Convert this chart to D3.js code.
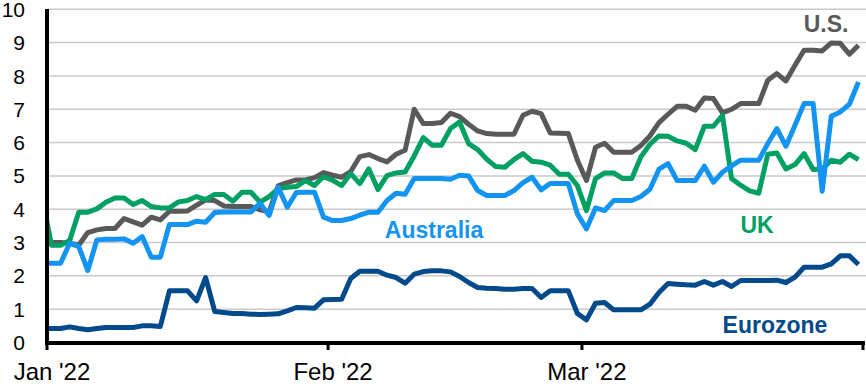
<!DOCTYPE html>
<html>
<head>
<meta charset="utf-8">
<script src="https://cdn.jsdelivr.net/npm/d3@7"></script>
<style>
  body { margin: 0; background: #fff; }
  svg { display: block; font-family: "Liberation Sans", Arial, sans-serif; }
</style>
</head>
<body>
<div id="chart"></div>
<script>
// daily values, first point is 31 Dec 2021, last one 31 Mar 2022
let startDate = new Date(2021, 11, 31, 12);

let usValues = [3.0, 3.0, 3.0, 2.98, 2.92, 3.3, 3.38, 3.42, 3.42, 3.72,
  3.62, 3.52, 3.76, 3.68, 3.94, 3.94, 3.95, 4.12, 4.28, 4.26,
  4.1, 4.08, 4.08, 4.08, 3.98, 3.92, 4.7, 4.8, 4.88, 4.88,
  4.95, 5.1, 5.02, 4.96, 5.13, 5.58, 5.64, 5.52, 5.42, 5.65,
  5.77, 7.0, 6.57, 6.57, 6.6, 6.88, 6.78, 6.55, 6.35, 6.27,
  6.25, 6.25, 6.25, 6.82, 6.94, 6.87, 6.29, 6.28, 6.27, 5.47,
  4.86, 5.86, 5.98, 5.71, 5.71, 5.71, 5.91, 6.2, 6.6, 6.85,
  7.09, 7.09, 6.97, 7.34, 7.32, 6.89, 7.0, 7.17, 7.17, 7.17,
  7.87, 8.07, 7.85, 8.32, 8.77, 8.77, 8.75, 8.99, 8.98, 8.65, 8.92];

let ukValues = [4.3, 2.92, 2.92, 3.06, 3.91, 3.91, 4.01, 4.21, 4.34, 4.34,
  4.14, 4.26, 4.08, 4.04, 4.04, 4.22, 4.26, 4.38, 4.29, 4.44,
  4.44, 4.24, 4.51, 4.51, 4.21, 4.38, 4.62, 4.66, 4.68, 4.86,
  4.71, 4.98, 4.87, 4.71, 5.07, 4.77, 5.21, 4.59, 5.01, 5.09,
  5.12, 5.6, 6.15, 5.92, 5.92, 6.42, 6.62, 5.97, 5.79, 5.5,
  5.28, 5.26, 5.49, 5.67, 5.44, 5.41, 5.32, 5.05, 5.05, 4.71,
  3.96, 4.92, 5.09, 5.09, 4.92, 4.92, 5.57, 5.95, 6.2, 6.19,
  6.05, 5.98, 5.79, 6.49, 6.49, 6.82, 4.92, 4.72, 4.55, 4.48,
  5.65, 5.69, 5.21, 5.34, 5.67, 5.19, 5.21, 5.47, 5.41, 5.65, 5.49];

let australiaValues = [2.38, 2.38, 2.38, 2.98, 2.88, 2.16, 3.08, 3.1, 3.1, 3.11,
  2.98, 3.18, 2.56, 2.56, 3.54, 3.54, 3.54, 3.64, 3.61, 3.9,
  3.92, 3.92, 3.92, 3.92, 4.18, 3.81, 4.66, 4.06, 4.5, 4.51,
  4.51, 3.76, 3.66, 3.66, 3.72, 3.82, 3.91, 3.91, 4.26, 4.48,
  4.45, 4.92, 4.92, 4.92, 4.92, 4.9, 5.02, 5.0, 4.56, 4.41,
  4.41, 4.41, 4.56, 4.8, 4.96, 4.58, 4.77, 4.77, 4.77, 3.86,
  3.41, 4.04, 3.96, 4.26, 4.26, 4.26, 4.38, 4.6, 5.2, 5.37,
  4.86, 4.86, 4.86, 5.29, 4.81, 5.11, 5.3, 5.47, 5.47, 5.47,
  5.97, 6.42, 5.89, 6.52, 7.17, 7.17, 4.54, 6.79, 6.92, 7.15, 7.82];

let eurozoneValues = [0.42, 0.42, 0.42, 0.47, 0.42, 0.38, 0.42, 0.45, 0.45, 0.45,
  0.45, 0.5, 0.5, 0.48, 1.55, 1.55, 1.55, 1.25, 1.95, 0.93,
  0.9, 0.87, 0.87, 0.85, 0.84, 0.85, 0.86, 0.95, 1.05, 1.04,
  1.03, 1.28, 1.29, 1.3, 1.92, 2.14, 2.14, 2.14, 2.02, 1.95,
  1.78, 2.05, 2.13, 2.15, 2.15, 2.12, 1.98, 1.8, 1.65, 1.63,
  1.62, 1.6, 1.6, 1.62, 1.62, 1.35, 1.55, 1.55, 1.55, 0.87,
  0.68, 1.18, 1.2, 0.98, 0.98, 0.98, 0.98, 1.15, 1.5, 1.77,
  1.75, 1.73, 1.72, 1.83, 1.72, 1.83, 1.68, 1.86, 1.86, 1.86,
  1.86, 1.87, 1.8, 1.96, 2.26, 2.26, 2.26, 2.36, 2.6, 2.6, 2.34];

let yTicks = [0, 1, 2, 3, 4, 5, 6, 7, 8, 9, 10];
let monthTicks = [new Date(2022, 0, 1), new Date(2022, 1, 1), new Date(2022, 2, 1), new Date(2022, 3, 1)];

let series = [
  { name: "U.S.", values: usValues, color: "#58595b", label: [826, 32] },
  { name: "UK", values: ukValues, color: "#00a063", label: [757, 233] },
  { name: "Australia", values: australiaValues, color: "#1494f2", label: [434, 238] },
  { name: "Eurozone", values: eurozoneValues, color: "#034a8c", label: [775, 333] }
];

let width = 866, height = 386;
let svg = d3.select("#chart").append("svg").attr("width", width).attr("height", height);

let x = d3.scaleTime().domain([monthTicks[0], monthTicks[3]]).range([47, 863]);
let y = d3.scaleLinear().domain([0, 10]).range([342.5, 9.3]);

// gridlines
svg.append("g").selectAll("line").data(yTicks.filter(d => d > 0)).join("line")
  .attr("x1", 47).attr("x2", 866)
  .attr("y1", d => y(d)).attr("y2", d => y(d))
  .attr("stroke", "#c9c9c9").attr("stroke-width", 1.5);

// y axis labels
svg.append("g").selectAll("text").data(yTicks).join("text")
  .attr("x", 25).attr("y", d => y(d))
  .attr("dy", "0.36em")
  .attr("text-anchor", "end")
  .attr("font-size", 21)
  .attr("fill", "#000")
  .text(d => d);

// clip the lines to the plot area
svg.append("clipPath").attr("id", "plot")
  .append("rect").attr("x", 47).attr("y", 0).attr("width", 820).attr("height", 343);

let line = d3.line()
  .x((d, i) => x(d3.timeDay.offset(startDate, i)))
  .y(d => y(d));

let lines = svg.append("g").attr("clip-path", "url(#plot)");
series.forEach(function(s) {
  lines.append("path")
    .datum(s.values)
    .attr("d", line)
    .attr("fill", "none")
    .attr("stroke", s.color)
    .attr("stroke-width", 5)
    .attr("stroke-linejoin", "round");
});

// series labels
svg.append("g").selectAll("text").data(series).join("text")
  .attr("x", d => d.label[0]).attr("y", d => d.label[1])
  .attr("text-anchor", "middle")
  .attr("font-size", 23)
  .attr("font-weight", "bold")
  .attr("fill", d => d.color)
  .text(d => d.name);

// axes lines
let xAxis = svg.append("g").attr("transform", "translate(0,343)");
xAxis.append("line").attr("x1", 45).attr("x2", 865).attr("stroke", "#000").attr("stroke-width", 4);
xAxis.selectAll(".tick").data(monthTicks).join("line")
  .attr("x1", d => x(d)).attr("x2", d => x(d))
  .attr("y1", 0).attr("y2", 7)
  .attr("stroke", "#000").attr("stroke-width", 3);
xAxis.selectAll("text").data(monthTicks.slice(0, 3)).join("text")
  .attr("x", d => x(d) + 5).attr("y", 37)
  .attr("text-anchor", "middle")
  .attr("font-size", 24)
  .attr("fill", "#000")
  .text(d => d3.timeFormat("%b '%y")(d));

svg.append("line").attr("x1", 47).attr("x2", 47).attr("y1", 9).attr("y2", 345)
  .attr("stroke", "#000").attr("stroke-width", 4);
</script>
</body>
</html>
